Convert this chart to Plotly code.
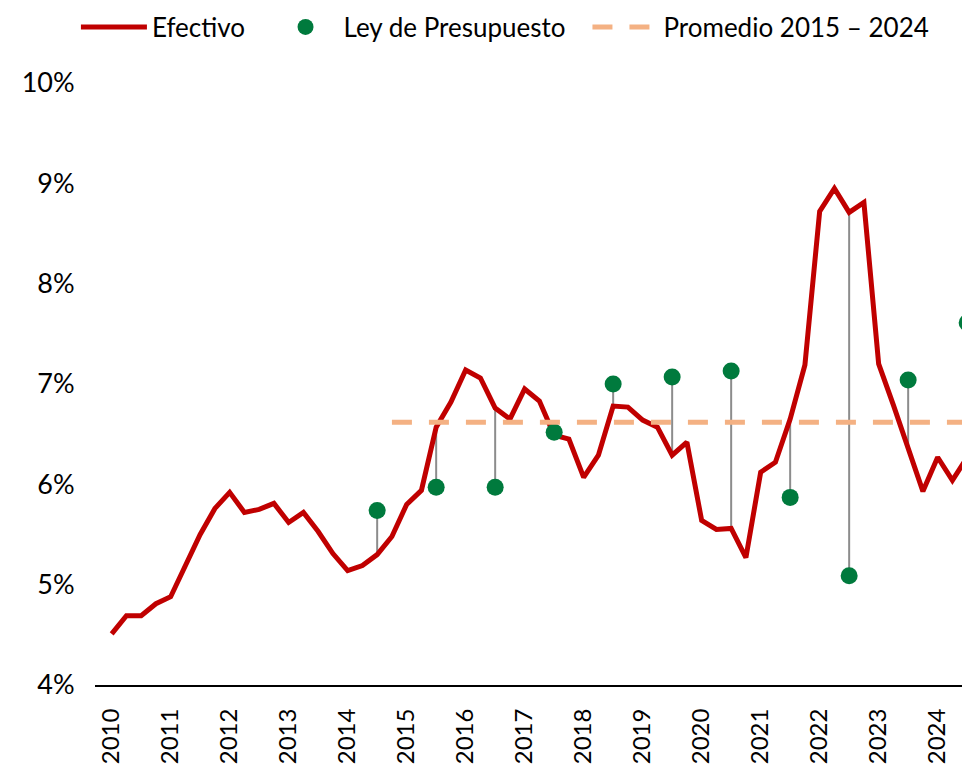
import plotly.graph_objects as go

# ---- data ----
years = [str(y) for y in range(2010, 2025)]
efectivo = [4.51, 4.69, 4.69, 4.81,
            4.88, 5.20, 5.50, 5.76,
            5.92, 5.72, 5.75, 5.81,
            5.62, 5.72, 5.53, 5.31,
            5.14, 5.19, 5.30, 5.48,
            5.80, 5.94, 6.57, 6.82,
            7.14, 7.06, 6.76, 6.65,
            6.95, 6.83, 6.49, 6.45,
            6.07, 6.29, 6.78, 6.77,
            6.64, 6.57, 6.29, 6.42,
            5.64, 5.55, 5.56, 5.27,
            6.12, 6.22, 6.65, 7.19,
            8.72, 8.95, 8.71, 8.81,
            7.20, 6.79, 6.37, 5.93,
            6.27, 6.04, 6.27]
ley_years = list(range(2014, 2025))
ley_presupuesto = [5.74, 5.97, 5.97, 6.52, 7.00, 7.07, 7.13, 5.87, 5.09, 7.04, 7.61]
promedio = 6.62
promedio_desde = 2015

# ---- derived positions (quarter index) ----
qx = list(range(len(efectivo)))
ley_x = [(y - 2010) * 4 + 2 for y in ley_years]  # third quarter of each year

conn_x, conn_y = [], []
for x, v in zip(ley_x, ley_presupuesto):
    if x < len(efectivo):
        conn_x += [x, x, None]
        conn_y += [v, efectivo[x], None]

prom_x = [(promedio_desde - 2010) * 4 - 1, len(efectivo) + 4]
prom_y = [promedio, promedio]

RED = "#C00000"
GREEN = "#007A3D"
PEACH = "#F4B183"
FONT = "Lato"

fig = go.Figure()
fig.add_trace(go.Scatter(x=conn_x, y=conn_y, mode="lines",
                         line=dict(color="#8C8C8C", width=2),
                         showlegend=False, hoverinfo="skip"))
fig.add_trace(go.Scatter(x=qx, y=efectivo, mode="lines", name="Efectivo",
                         line=dict(color=RED, width=5), legend="legend"))
fig.add_trace(go.Scatter(x=ley_x, y=ley_presupuesto, mode="markers",
                         name="Ley de Presupuesto", legend="legend2",
                         marker=dict(color=GREEN, size=17, line=dict(width=0))))
fig.add_trace(go.Scatter(x=prom_x, y=prom_y, mode="lines",
                         name="Promedio 2015 – 2024", legend="legend3",
                         line=dict(color=PEACH, width=5, dash="20px,17px")))

leg_common = dict(orientation="h", xanchor="left", y=1.093, yanchor="middle",
                  font=dict(family=FONT, size=26), itemwidth=66,
                  bgcolor="rgba(0,0,0,0)")

fig.update_layout(
    width=962, height=765,
    margin=dict(l=95, r=0, t=83, b=80),
    plot_bgcolor="white", paper_bgcolor="white",
    font=dict(family=FONT, size=24, color="#000000"),
    legend=dict(x=-0.022, **leg_common),
    legend2=dict(x=0.199, **leg_common),
    legend3=dict(x=0.568, **leg_common),
    xaxis=dict(range=[-1.13, 57.65], tickvals=[i * 4 for i in range(len(years))],
               ticktext=years, tickangle=-90, showgrid=False, zeroline=False,
               showline=True, linecolor="#000000", linewidth=2,
               ticks="outside", ticklen=12, tickcolor="rgba(0,0,0,0)",
               tickfont=dict(family=FONT, size=24), automargin=False),
    yaxis=dict(range=[4, 10], tickvals=[4, 5, 6, 7, 8, 9, 10],
               ticktext=[f"{v}%" for v in range(4, 11)],
               showgrid=False, zeroline=False, showline=False,
               ticks="outside", ticklen=14, tickcolor="rgba(0,0,0,0)",
               tickfont=dict(family=FONT, size=27), automargin=False),
)

fig.write_html("out.html", config={"displayModeBar": False, "staticPlot": True},
               post_script="document.body.style.margin='0';")
